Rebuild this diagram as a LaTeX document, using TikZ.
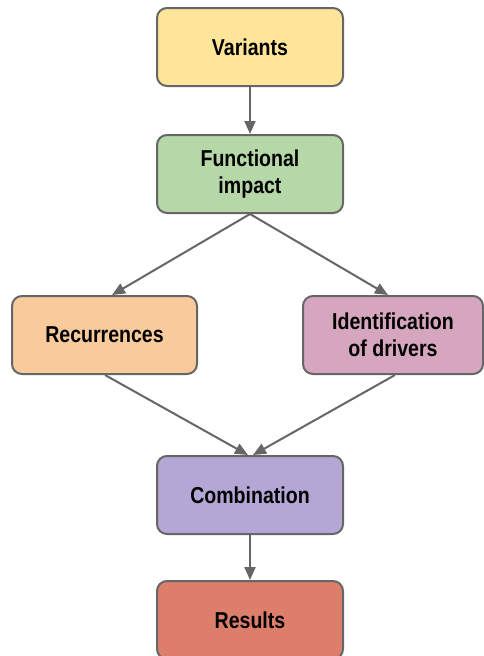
\documentclass[tikz,border=0pt]{standalone}
\usepackage{fontspec}
\setmainfont[FakeStretch=0.85]{Liberation Sans}
\usetikzlibrary{arrows.meta}
\definecolor{cyellow}{HTML}{FFE599}
\definecolor{cgreen}{HTML}{B6D7A8}
\definecolor{corange}{HTML}{F9CB9C}
\definecolor{cpink}{HTML}{D5A6BD}
\definecolor{cpurple}{HTML}{B4A7D6}
\definecolor{cred}{HTML}{DD7E6B}
\definecolor{cline}{HTML}{666666}
\tikzset{
  stepbox/.style={draw=cline, line width=2pt, rounded corners=10pt,
    minimum width=186pt, minimum height=78pt, inner sep=0pt,
    align=center, font=\fontsize{23}{27}\selectfont\bfseries},
  conn/.style={draw=cline, line width=2pt, -{Triangle[length=13pt,width=11pt]}}
}
\begin{document}
\begin{tikzpicture}[x=1pt,y=-1pt]
\useasboundingbox (0,0) rectangle (484,656);
\node[stepbox, fill=cyellow] (var) at (250,47) {Variants};
\node[stepbox, fill=cgreen] (func) at (250,174) {Functional\\impact};
\node[stepbox, fill=corange, minimum width=185pt] (rec) at (104.5,335) {Recurrences};
\node[stepbox, fill=cpink, minimum width=180pt] (drv) at (393,335) {Identification\\of drivers};
\node[stepbox, fill=cpurple] (comb) at (250,495) {Combination};
\node[stepbox, fill=cred] (res) at (250,620) {Results};
\draw[conn] (var.south) -- (func.north);
\draw[conn] (func.south) -- ([xshift=7.5pt]rec.north);
\draw[conn] (func.south) -- ([xshift=-5pt]drv.north);
\draw[conn] ([xshift=0.5pt]rec.south) -- ([xshift=-2pt]comb.north);
\draw[conn] ([xshift=2pt]drv.south) -- ([xshift=3pt]comb.north);
\draw[conn] (comb.south) -- (res.north);
\end{tikzpicture}
\end{document}
